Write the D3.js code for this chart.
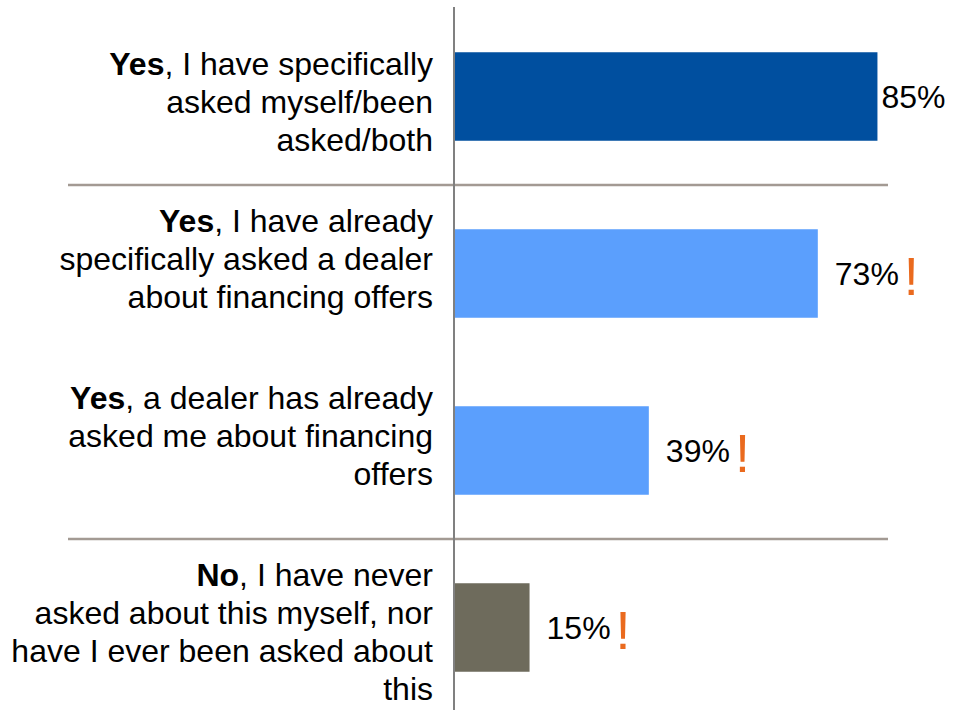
<!DOCTYPE html>
<html>
<head>
<meta charset="utf-8">
<script src="https://cdn.jsdelivr.net/npm/d3@7"></script>
<style>
  html, body { margin: 0; padding: 0; background: #fff; }
  svg { display: block; font-family: "Liberation Sans", Arial, sans-serif; }
</style>
</head>
<body>
<svg id="chart" width="953" height="710"></svg>
<script>
// Survey answers: bold lead word plus the rest of each wrapped label line
const categories = ["self", "askedDealer", "dealerAsked", "never"];
const leads = ["Yes", "Yes", "Yes", "No"];
const labelLines = [
  [", I have specifically", "asked myself/been", "asked/both"],
  [", I have already", "specifically asked a dealer", "about financing offers"],
  [", a dealer has already", "asked me about financing", "offers"],
  [", I have never", "asked about this myself, nor", "have I ever been asked about", "this"]
];
const values = [85, 73, 39, 15];
const highlighted = [false, true, true, true];
const colors = ["#004f9f", "#5b9ffd", "#5b9ffd", "#6e6b5c"];
// groups are separated by a rule between them
const groups = ["total", "yes", "yes", "no"];

const W = 953, H = 710;
const fontSize = 32;
const lineGap = 38;
const svg = d3.select("#chart");

const x = d3.scaleLinear().domain([0, 100]).range([455, 952]);
const y = d3.scaleBand().domain(categories).range([8, 716])
  .paddingInner(0.5).paddingOuter(0.25);

// separator rules between groups
for (let i = 0; i < categories.length - 1; i++) {
  if (groups[i] !== groups[i + 1]) {
    const yy = (y(categories[i]) + y.bandwidth() + y(categories[i + 1])) / 2;
    svg.append("line")
      .attr("x1", 68).attr("x2", 888)
      .attr("y1", yy).attr("y2", yy)
      .attr("stroke", "#a39a93").attr("stroke-width", 2.5);
  }
}

// bars
svg.selectAll("rect.bar").data(categories).join("rect")
  .attr("class", "bar")
  .attr("x", x(0))
  .attr("y", d => y(d))
  .attr("width", (d, i) => x(values[i]) - x(0))
  .attr("height", y.bandwidth())
  .attr("fill", (d, i) => colors[i]);

// category axis line
svg.append("line")
  .attr("x1", 454).attr("x2", 454)
  .attr("y1", 7).attr("y2", H)
  .attr("stroke", "#808080").attr("stroke-width", 2);

// category labels, right aligned, top anchored to the bar (kept inside the plot top)
categories.forEach((c, i) => {
  const firstCenter = Math.max(y(c) - 7, 65);
  const t = svg.append("text")
    .attr("text-anchor", "end")
    .attr("font-size", fontSize)
    .attr("fill", "#000");
  labelLines[i].forEach((line, j) => {
    const base = firstCenter + j * lineGap + 10;
    if (j === 0) {
      const ts = t.append("tspan").attr("x", 433).attr("y", base);
      ts.append("tspan").attr("font-weight", "bold").text(leads[i]);
      ts.append("tspan").text(line);
    } else {
      t.append("tspan").attr("x", 433).attr("y", base).text(line);
    }
  });
});

// value labels with optional highlight mark
categories.forEach((c, i) => {
  const cy = y(c) + y.bandwidth() / 2;
  const label = svg.append("text")
    .attr("font-size", fontSize)
    .attr("fill", "#000")
    .attr("y", cy + 11.5)
    .text(values[i] + "%");
  const tw = label.node().getComputedTextLength();
  let lx = x(values[i]) + 17;
  if (lx + tw > W - 10) lx = x(values[i]) + 4;
  label.attr("x", lx);
  if (highlighted[i]) {
    svg.append("text")
      .attr("x", lx + tw + 5)
      .attr("y", cy + 21)
      .attr("font-size", 54)
      .attr("fill", "#ea6a1e")
      .text("!");
  }
});
</script>
</body>
</html>
